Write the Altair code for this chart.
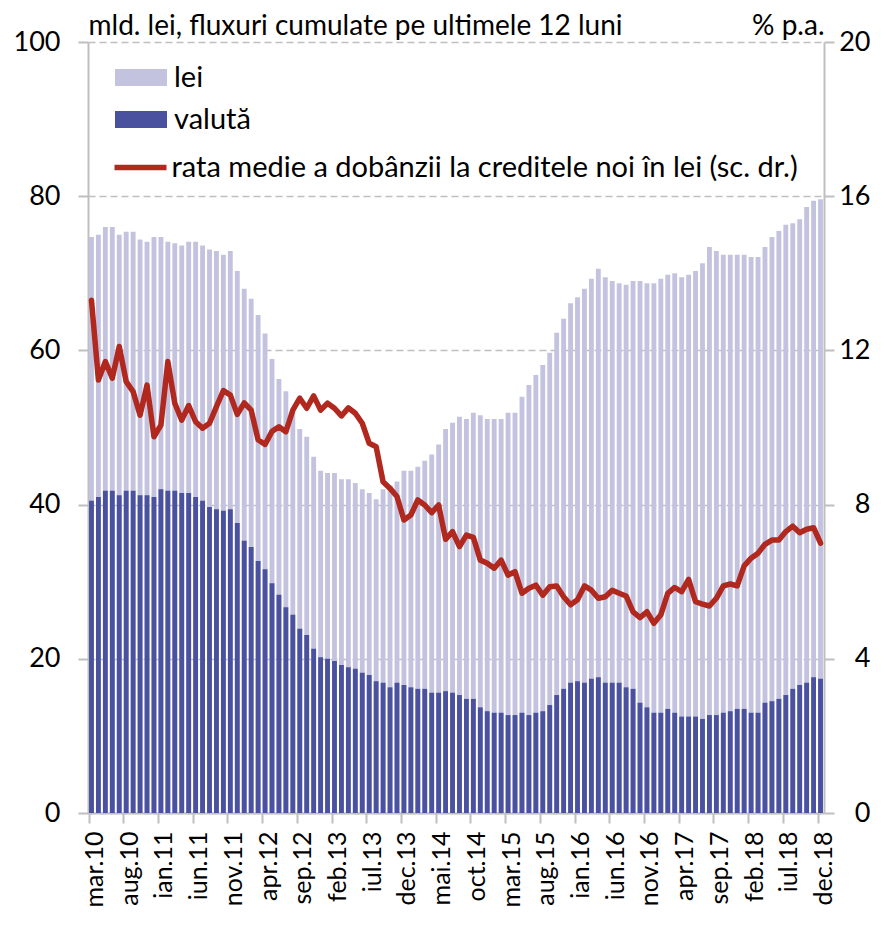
import altair as alt
import pandas as pd

months_ro = ["ian", "feb", "mar", "apr", "mai", "iun", "iul", "aug", "sep", "oct", "nov", "dec"]
years = [10, 11, 12, 13, 14, 15, 16, 17, 18]
luni = [f"{m}.{y:02d}" for y in years for k, m in enumerate(months_ro) if not (y == 10 and k < 2)]

# total credit flows (lei + valută), mld. lei
total = [74.7, 75.0, 76.0, 76.0, 75.0, 75.4, 75.4, 74.4, 74.1, 74.7, 74.7,
         74.1, 73.9, 73.6, 74.1, 74.1, 73.6, 73.1, 72.9, 72.4, 72.9,
         70.3, 68.0, 66.7, 64.6, 62.2,
         58.9, 56.3, 54.7, 52.3, 49.8, 48.8, 46.2, 44.4, 44.1, 44.1, 43.3, 43.3, 42.8, 42.0,
         41.5, 40.7, 42.0, 42.5, 43.0, 44.4, 44.4, 44.9, 45.7, 46.5, 47.8, 49.8, 50.6, 51.4,
         51.1, 51.9, 51.6, 51.1, 51.1, 51.1, 51.9, 51.9, 54.0, 55.5, 56.8, 58.1, 59.7, 62.3,
         64.1, 66.1, 66.9, 68.0, 69.3, 70.6, 69.5, 69.0, 68.7, 68.5, 69.0,
         69.0, 68.7, 68.7, 69.3, 69.8, 70.0, 69.5, 69.8, 70.3, 71.3, 73.4, 72.9, 72.4, 72.4,
         72.4, 72.4, 72.1, 72.1, 73.4, 74.7, 75.5, 76.3, 76.5, 77.0, 78.6, 79.4, 79.6]

valuta = [40.5, 41.0, 41.8, 41.8, 41.2, 41.8, 41.8, 41.2, 41.2, 41.0,
          42.0, 41.8, 41.8, 41.5, 41.5, 41.0, 40.5, 39.7, 39.4, 39.2,
          39.4, 37.6, 35.3, 34.5, 32.7, 31.6, 29.8, 28.3, 26.7, 25.7,
          23.9, 23.1, 21.3, 20.2, 20.0, 19.7, 19.2, 18.9, 18.7, 18.2,
          17.9, 17.1, 16.9, 16.3, 16.9, 16.6, 16.3, 16.1, 16.1, 15.6,
          15.6, 15.8, 15.6, 15.3,
          14.8, 14.8, 13.7, 13.2, 13.0, 13.0, 12.7, 12.7, 13.0, 12.7,
          13.0, 13.2, 14.0, 15.3, 16.1, 16.9, 17.1, 16.9, 17.4, 17.6,
          16.9, 16.9, 16.9, 16.3, 16.1, 14.3, 13.7, 13.0, 13.0, 13.5,
          13.0, 12.5, 12.5, 12.5, 12.2, 12.7, 12.7, 13.0, 13.2, 13.5,
          13.5, 13.0, 13.0, 14.3, 14.5, 14.8, 15.3, 16.1, 16.6, 16.9,
          17.6, 17.4]

rata = [13.3,
        11.23, 11.71, 11.28, 12.10, 11.19, 10.93, 10.32, 11.10, 9.76, 10.06,
        11.71, 10.63, 10.19, 10.57, 10.15, 9.98, 10.11, 10.54, 10.96, 10.84,
        10.34, 10.64, 10.45, 9.68, 9.56, 9.9,
        10.02, 9.89, 10.45, 10.76, 10.50, 10.82, 10.45, 10.63, 10.50, 10.30,
        10.51, 10.37, 10.11, 9.59, 9.50, 8.59, 8.42, 8.21, 7.60, 7.73,
        8.12, 7.99, 7.79, 7.99,
        7.10, 7.30, 6.91, 7.21, 7.15, 6.56, 6.48, 6.35, 6.56, 6.17,
        6.26, 5.70, 5.83, 5.91, 5.65, 5.87, 5.89, 5.61, 5.40, 5.53,
        5.89, 5.78, 5.57, 5.61, 5.78, 5.70, 5.63, 5.22, 5.07, 5.22,
        4.92, 5.14, 5.70, 5.85, 5.74, 6.06, 5.48, 5.42, 5.37, 5.57,
        5.89, 5.94, 5.89, 6.41, 6.61, 6.74, 6.97, 7.08, 7.08, 7.30,
        7.44, 7.27, 7.36, 7.40, 7.00]

y_left_ticks = [0, 20, 40, 60, 80, 100]
y_right_ticks = [0, 4, 8, 12, 16, 20]
x_tick_labels = luni[::5]

LEI_NAME = "lei"
VAL_NAME = "valută"
RATA_NAME = "rata medie a dobânzii la creditele noi în lei (sc. dr.)"

df = pd.DataFrame({"luna": luni, "total": total, "valuta": valuta, "rata": rata})

GRAY = "#BFBFBF"
FONT = "Lato"
FS_TXT = 29
FS_TITLE = 28
FS_AX = 27
LINE_W = 5.5

x_enc = alt.X(
    "luna:N", sort=luni,
    scale=alt.Scale(paddingInner=0.3, paddingOuter=0.15),
    axis=alt.Axis(values=x_tick_labels, title=None, labelAngle=270, labelAlign="right",
                  labelBaseline="middle", bandPosition=0, labelOffset=3.5,
                  tickSize=10, tickWidth=2, tickColor=GRAY, domainColor=GRAY, domainWidth=2,
                  labelPadding=8, labelFontSize=25, labelColor="black", grid=False),
)

left_axis = alt.Axis(values=y_left_ticks, title="mld. lei, fluxuri cumulate pe ultimele 12 luni",
                     titleAngle=0, titleAlign="left", titleX=0, titleY=-8,
                     titleBaseline="alphabetic", titleFontWeight="normal", titleFontSize=FS_TITLE,
                     titleColor="black",
                     grid=True, gridDash=[7, 4], gridColor=GRAY, gridWidth=1.5,
                     domainColor=GRAY, domainWidth=2, tickColor=GRAY, tickWidth=2, tickSize=10,
                     labelFontSize=FS_AX, labelPadding=18, labelColor="black")

right_axis = alt.Axis(orient="right", values=y_right_ticks, title="% p.a.",
                      titleAngle=0, titleAlign="right", titleX=0, titleY=-8,
                      titleBaseline="alphabetic", titleFontWeight="normal", titleFontSize=FS_TITLE,
                      titleColor="black",
                      grid=False, domainColor=GRAY, domainWidth=2, tickColor=GRAY, tickWidth=2,
                      tickSize=10, labelAlign="right", labelFontSize=FS_AX, labelPadding=36,
                      labelColor="black")

fill_scale = alt.Scale(domain=[LEI_NAME, VAL_NAME], range=["#C3C3E0", "#4A519E"])
fill_legend = alt.Legend(title=None, orient="none", legendX=38.5, legendY=21,
                         symbolType="M-4,-1.3H4V1.3H-4Z", symbolSize=169,
                         symbolStrokeWidth=0, labelFontSize=FS_TXT, labelOffset=18.5,
                         rowPadding=12, padding=0, labelColor="black")

stroke_scale = alt.Scale(domain=[RATA_NAME], range=["#B0281E"])
stroke_legend = alt.Legend(title=None, orient="none", legendX=38, legendY=111,
                           symbolType="M-4,0H4", symbolSize=169, symbolStrokeWidth=LINE_W,
                           labelFontSize=FS_TXT, labelOffset=16.5, padding=0, labelColor="black",
                           labelLimit=900)

base = alt.Chart(df)

bars_lei = base.transform_calculate(serie=f"'{LEI_NAME}'").mark_bar().encode(
    x=x_enc,
    y=alt.Y("total:Q", scale=alt.Scale(domain=[0, 100]), axis=left_axis),
    fill=alt.Fill("serie:N", scale=fill_scale, legend=fill_legend),
)

bars_val = base.transform_calculate(serie=f"'{VAL_NAME}'").mark_bar().encode(
    x=x_enc,
    y=alt.Y("valuta:Q", scale=alt.Scale(domain=[0, 100])),
    fill=alt.Fill("serie:N", scale=fill_scale, legend=fill_legend),
)

bars = alt.layer(bars_lei, bars_val)

line = base.transform_calculate(serie=f"'{RATA_NAME}'").mark_line(
    strokeWidth=LINE_W, strokeCap="round", strokeJoin="round"
).encode(
    x=x_enc,
    y=alt.Y("rata:Q", scale=alt.Scale(domain=[0, 20]), axis=right_axis),
    stroke=alt.Stroke("serie:N", scale=stroke_scale, legend=stroke_legend),
)

chart = alt.layer(bars, line).resolve_scale(y="independent").properties(
    width=736, height=771,
    autosize=alt.AutoSizeParams(type="none"),
    padding={"left": 80, "top": 34, "right": 58, "bottom": 100},
).configure(font=FONT).configure_view(stroke=None)

chart.save("out.html", embed_options={"renderer": "svg", "actions": False})
